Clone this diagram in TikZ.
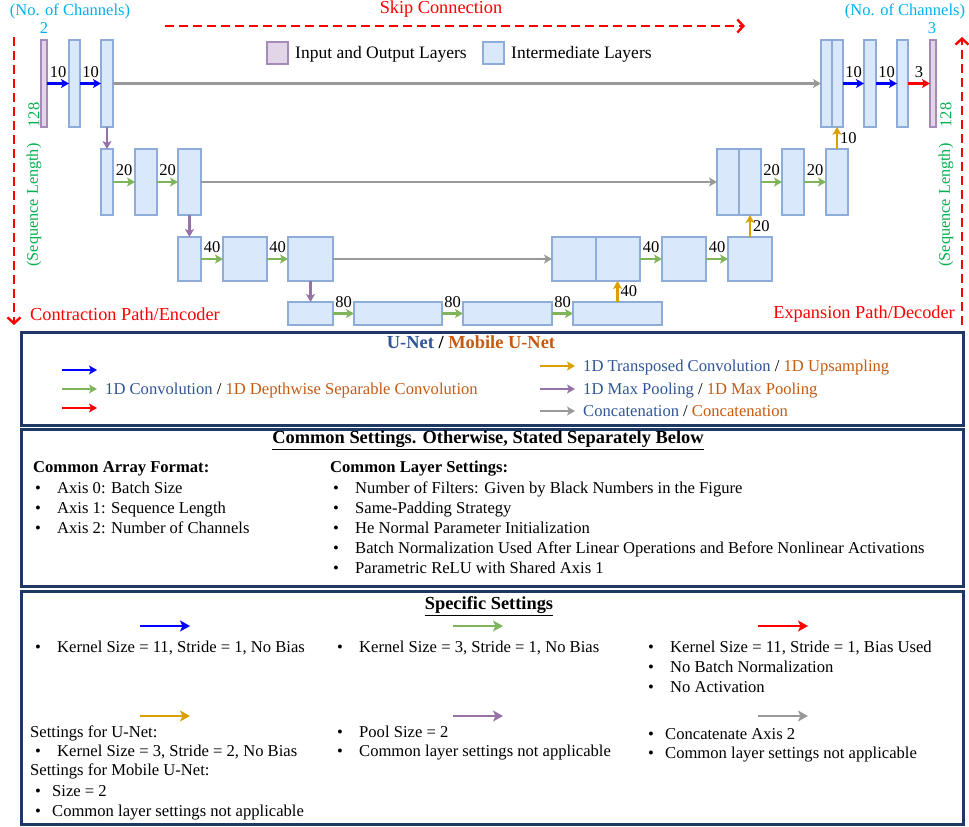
\documentclass[tikz,border=0pt]{standalone}
\usepackage{fontspec}
\setmainfont{Liberation Serif}
\usetikzlibrary{arrows.meta}
\definecolor{blkfill}{HTML}{DAE8FC}
\definecolor{blkdraw}{HTML}{8EACD8}
\definecolor{iofill}{HTML}{E1D5E7}
\definecolor{iodraw}{HTML}{A68BB8}
\definecolor{cblue}{HTML}{0000FF}
\definecolor{cgreen}{HTML}{7FB45A}
\definecolor{cred}{HTML}{FF0000}
\definecolor{corange}{HTML}{D9A000}
\definecolor{cpurple}{HTML}{9673A6}
\definecolor{cgray}{HTML}{999999}
\definecolor{navy}{HTML}{1F3864}
\definecolor{tblue}{HTML}{2F5597}
\definecolor{torange}{HTML}{C55A11}
\definecolor{tcyan}{HTML}{00B0F0}
\definecolor{tgreen}{HTML}{00B050}
\newcommand\blk[6]{\node[#6, anchor=north west, minimum width=#4pt-#2pt, minimum height=#5pt-#3pt] (#1) at (#2,#3) {};}
\newcommand\bul[4]{\node[txt] (#1b) at (#2,#3) {•};\node[txt] (#1) at (#2+22,#3) {#4};}
\tikzset{
  blkst/.style={draw=blkdraw, fill=blkfill, line width=1.2pt, inner sep=0pt, outer sep=0pt},
  iost/.style={draw=iodraw, fill=iofill, line width=1.2pt, inner sep=0pt, outer sep=0pt},
  conn/.style={line width=2.2pt, -{Stealth[length=8pt,width=9pt,inset=2pt]}},
  bigarr/.style={line width=2.7pt, -{Stealth[length=10pt,width=11pt,inset=2.5pt]}},
  dasharr/.style={cred, line width=2.6pt, dash pattern=on 9pt off 5pt, -{Straight Barb[length=6pt,width=13pt,line width=2.4pt]}},
  num/.style={font=\fontsize{16.5}{16.5}\selectfont, inner sep=1pt},
  txt/.style={font=\fontsize{16.6}{19}\selectfont, anchor=base west, inner sep=0pt, yshift=-5.5pt},
  redtxt/.style={font=\fontsize{18.3}{18.3}\selectfont, text=cred, inner sep=0pt},
  ttl/.style={font=\fontsize{18.4}{20}\selectfont\bfseries, inner sep=0pt},
  boxst/.style={draw=navy, line width=3pt, anchor=north west, inner sep=0pt},
}
\begin{document}
\begin{tikzpicture}[x=1pt,y=-1pt]
\useasboundingbox (0,0) rectangle (969,827);
% ---------- header labels ----------
\node[num, text=tcyan] (chL) at (70,11) {(No. of Channels)};
\node[num, text=tcyan] (ch2) at (44,28) {2};
\node[num, text=tcyan] (chR) at (905,11) {(No. of Channels)};
\node[num, text=tcyan] (ch3) at (932,28) {3};
\node[redtxt] (skip) at (441,9) {Skip Connection};
\coordinate (sk1) at (165,26); \coordinate (sk2) at (745,26);
\draw[dasharr] (sk1) -- (sk2);
\coordinate (vl1) at (14,37); \coordinate (vl2) at (14,325);
\draw[dasharr] (vl1) -- (vl2);
\coordinate (vr1) at (962,325); \coordinate (vr2) at (962,37);
\draw[dasharr] (vr1) -- (vr2);
\node[redtxt, anchor=west] (enc) at (30,314) {Contraction Path/Encoder};
\node[redtxt, anchor=east] (dec) at (955,314) {Expansion Path/Decoder};
\node[num, text=tgreen, rotate=90] (lenL) at (34,115) {128};
\node[num, text=tgreen, rotate=90, font=\fontsize{16.2}{16.2}\selectfont] (seqL) at (34,205) {(Sequence Length)};
\node[num, text=tgreen, rotate=90] (lenR) at (946,115) {128};
\node[num, text=tgreen, rotate=90, font=\fontsize{16.2}{16.2}\selectfont] (seqR) at (946,205) {(Sequence Length)};
% legend at top
\blk{legio}{267}{42}{288}{64}{iost}
\node[txt, font=\fontsize{17.5}{19}\selectfont] (legiot) at (295,53) {Input and Output Layers};
\blk{legbl}{483}{42}{504}{64}{blkst}
\node[txt, font=\fontsize{17.5}{19}\selectfont] (legblt) at (511,53) {Intermediate Layers};
% ---------- row 1 ----------
\blk{in}{41}{40}{47}{127}{iost}
\blk{a1}{69}{40}{80}{127}{blkst}
\blk{b1}{101}{40}{113}{127}{blkst}
\blk{r1a}{821}{40}{832}{127}{blkst}
\blk{r1b}{832}{40}{843}{127}{blkst}
\blk{r1c}{864}{40}{876}{127}{blkst}
\blk{r1d}{897}{40}{908}{127}{blkst}
\blk{out}{930}{40}{936}{127}{iost}
% ---------- row 2 ----------
\blk{a2}{101}{149}{113}{215}{blkst}
\blk{b2}{135}{149}{157}{215}{blkst}
\blk{c2}{178}{149}{201}{215}{blkst}
\blk{r2a}{717}{149}{739}{215}{blkst}
\blk{r2b}{739}{149}{761}{215}{blkst}
\blk{r2c}{782}{149}{804}{215}{blkst}
\blk{r2d}{826}{149}{848}{215}{blkst}
% ---------- row 3 ----------
\blk{a3}{178}{237}{201}{281}{blkst}
\blk{b3}{223}{237}{267}{281}{blkst}
\blk{c3}{288}{237}{333}{281}{blkst}
\blk{r3a}{552}{237}{596}{281}{blkst}
\blk{r3b}{596}{237}{640}{281}{blkst}
\blk{r3c}{662}{237}{706}{281}{blkst}
\blk{r3d}{728}{237}{772}{281}{blkst}
% ---------- row 4 ----------
\blk{a4}{288}{302}{333}{325}{blkst}
\blk{b4}{354}{302}{442}{325}{blkst}
\blk{c4}{463}{302}{552}{325}{blkst}
\blk{d4}{573}{302}{662}{325}{blkst}
% ---------- connectors ----------
\draw[conn, cblue] (in) -- node[num, above=4pt, text=black] (n1) {10} (a1);
\draw[conn, cblue] (a1) -- node[num, above=4pt, text=black] (n2) {10} (b1);
\draw[conn, cgray] (b1) -- (r1a);
\draw[conn, cblue] (r1b) -- node[num, above=4pt, text=black] (n3) {10} (r1c);
\draw[conn, cblue] (r1c) -- node[num, above=4pt, text=black] (n4) {10} (r1d);
\draw[conn, cred] (r1d) -- node[num, above=4pt, text=black] (n5) {3} (out);
\draw[conn, cpurple] (b1) -- (a2);
\draw[conn, cgreen] (a2) -- node[num, above=4pt, text=black] (n6) {20} (b2);
\draw[conn, cgreen] (b2) -- node[num, above=4pt, text=black] (n7) {20} (c2);
\draw[conn, cgray] (c2) -- (r2a);
\draw[conn, cgreen] (r2b) -- node[num, above=4pt, text=black] (n8) {20} (r2c);
\draw[conn, cgreen] (r2c) -- node[num, above=4pt, text=black] (n9) {20} (r2d);
\draw[conn, corange] (r2d.north) -- node[num, right=1pt, text=black] (n10) {10} (r2d.north |- r1b.south);
\draw[conn, cpurple] (c2) -- (a3);
\draw[conn, cgreen] (a3) -- node[num, above=4pt, text=black] (n11) {40} (b3);
\draw[conn, cgreen] (b3) -- node[num, above=4pt, text=black] (n12) {40} (c3);
\draw[conn, cgray] (c3) -- (r3a);
\draw[conn, cgreen] (r3b) -- node[num, above=4pt, text=black] (n13) {40} (r3c);
\draw[conn, cgreen] (r3c) -- node[num, above=4pt, text=black] (n14) {40} (r3d);
\draw[conn, corange] (r3d.north) -- node[num, right=1pt, text=black] (n15) {20} (r3d.north |- r2b.south);
\draw[conn, cpurple] (c3) -- (a4);
\draw[conn, cgreen] (a4) -- node[num, above=4pt, text=black] (n16) {80} (b4);
\draw[conn, cgreen] (b4) -- node[num, above=4pt, text=black] (n17) {80} (c4);
\draw[conn, cgreen] (c4) -- node[num, above=4pt, text=black] (n18) {80} (d4);
\draw[conn, corange] (d4.north) -- node[num, right=1pt, text=black] (n19) {40} (d4.north |- r3b.south);
% ---------- box 1: legend ----------
\node[boxst, minimum width=942pt, minimum height=93pt] (box1) at (20,331) {};
\node[ttl] (t1) at (471,342) {\textcolor{tblue}{U-Net} / \textcolor{torange}{Mobile U-Net}};
\coordinate (la1) at (62,370); \coordinate (la1e) at (97,370);
\coordinate (la2) at (62,389); \coordinate (la2e) at (97,389);
\coordinate (la3) at (62,408); \coordinate (la3e) at (97,408);
\draw[conn, cblue] (la1) -- (la1e);
\draw[conn, cgreen] (la2) -- (la2e);
\draw[conn, cred] (la3) -- (la3e);
\node[txt] (lt2) at (105,389) {\textcolor{tblue}{1D Convolution} / \textcolor{torange}{1D Depthwise Separable Convolution}};
\coordinate (lb1) at (540,366); \coordinate (lb1e) at (575,366);
\coordinate (lb2) at (540,389); \coordinate (lb2e) at (575,389);
\coordinate (lb3) at (540,411); \coordinate (lb3e) at (575,411);
\draw[conn, corange] (lb1) -- (lb1e);
\draw[conn, cpurple] (lb2) -- (lb2e);
\draw[conn, cgray] (lb3) -- (lb3e);
\node[txt] (lbt1) at (583,366) {\textcolor{tblue}{1D Transposed Convolution} / \textcolor{torange}{1D Upsampling}};
\node[txt] (lbt2) at (583,389) {\textcolor{tblue}{1D Max Pooling} / \textcolor{torange}{1D Max Pooling}};
\node[txt] (lbt3) at (583,411) {\textcolor{tblue}{Concatenation} / \textcolor{torange}{Concatenation}};
% ---------- box 2: common settings ----------
\node[boxst, minimum width=942pt, minimum height=157pt] (box2) at (20,428) {};
\node[ttl] (t2) at (488,440) {\underline{Common Settings. Otherwise, Stated Separately Below}};
\node[txt, font=\fontsize{16.6}{19}\selectfont\bfseries] (caf) at (33,467) {Common Array Format:};
\bul{ax0}{35}{488}{Axis 0: Batch Size}
\bul{ax1}{35}{508}{Axis 1: Sequence Length}
\bul{ax2}{35}{528}{Axis 2: Number of Channels}
\node[txt, font=\fontsize{16.6}{19}\selectfont\bfseries] (cls) at (330,467) {Common Layer Settings:};
\bul{cl1}{333}{488}{Number of Filters: Given by Black Numbers in the Figure}
\bul{cl2}{333}{508}{Same-Padding Strategy}
\bul{cl3}{333}{528}{He Normal Parameter Initialization}
\bul{cl4}{333}{548}{Batch Normalization Used After Linear Operations and Before Nonlinear Activations}
\bul{cl5}{333}{568}{Parametric ReLU with Shared Axis 1}
% ---------- box 3: specific settings ----------
\node[boxst, minimum width=942pt, minimum height=233pt] (box3) at (20,590) {};
\node[ttl] (t3) at (489,606) {\underline{Specific Settings}};
\coordinate (sa1) at (140,626); \coordinate (sa1e) at (190,626);
\coordinate (sa2) at (453,626); \coordinate (sa2e) at (503,626);
\coordinate (sa3) at (758,626); \coordinate (sa3e) at (808,626);
\draw[bigarr, cblue] (sa1) -- (sa1e);
\draw[bigarr, cgreen] (sa2) -- (sa2e);
\draw[bigarr, cred] (sa3) -- (sa3e);
\bul{s1}{35}{647}{Kernel Size = 11, Stride = 1, No Bias}
\bul{s2}{337}{647}{Kernel Size = 3, Stride = 1, No Bias}
\bul{s3}{648}{647}{Kernel Size = 11, Stride = 1, Bias Used}
\bul{s3b}{648}{667}{No Batch Normalization}
\bul{s3c}{648}{687}{No Activation}
\coordinate (sb1) at (140,716); \coordinate (sb1e) at (190,716);
\coordinate (sb2) at (453,716); \coordinate (sb2e) at (503,716);
\coordinate (sb3) at (758,716); \coordinate (sb3e) at (808,716);
\draw[bigarr, corange] (sb1) -- (sb1e);
\draw[bigarr, cpurple] (sb2) -- (sb2e);
\draw[bigarr, cgray] (sb3) -- (sb3e);
\node[txt] (su) at (30,732) {Settings for U-Net:};
\bul{u1}{35}{751}{Kernel Size = 3, Stride = 2, No Bias}
\node[txt] (sm) at (30,770) {Settings for Mobile U-Net:};
\node[txt] (m1b) at (35,791) {•};
\node[txt] (m1) at (52,791) {Size = 2};
\node[txt] (m2b) at (35,811) {•};
\node[txt] (m2) at (52,811) {Common layer settings not applicable};
\bul{p1}{337}{732}{Pool Size = 2}
\bul{p2}{337}{751}{Common layer settings not applicable}
\node[txt] (g1b) at (648,734) {•};
\node[txt] (g1) at (665,734) {Concatenate Axis 2};
\node[txt] (g2b) at (648,753) {•};
\node[txt] (g2) at (665,753) {Common layer settings not applicable};
\end{tikzpicture}
\end{document}
